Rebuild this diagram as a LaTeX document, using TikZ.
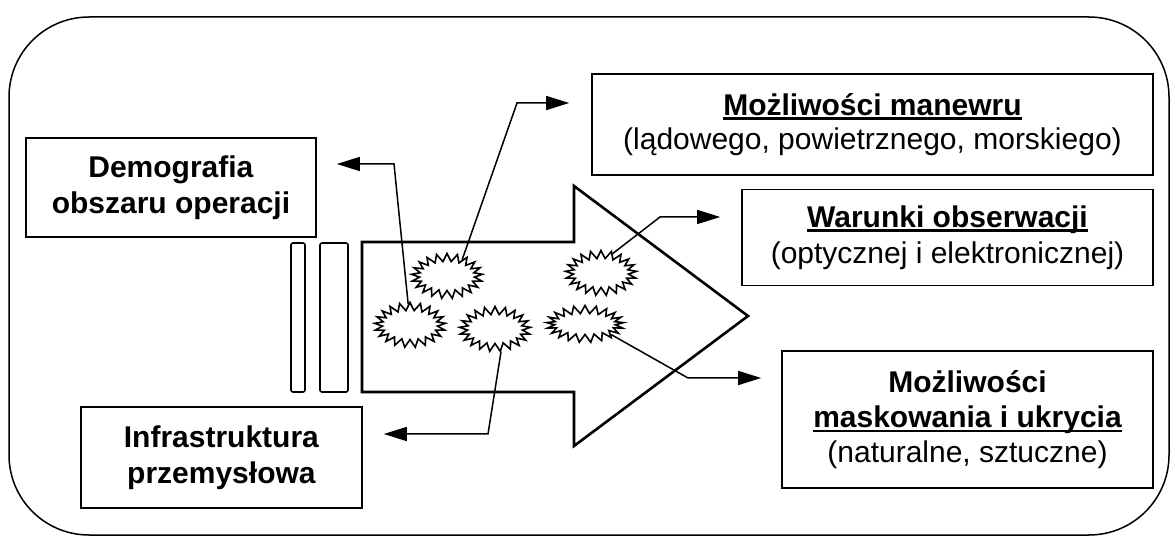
\documentclass[tikz,border=0pt]{standalone}
\usepackage{fontspec}
\setmainfont{Liberation Sans}
\usetikzlibrary{arrows.meta, positioning, shapes.symbols}

\newcommand{\undl}[1]{\setbox0\hbox{#1}\rlap{\rule[-4.5pt]{\wd0}{2.4pt}}\box0}

\begin{document}
\begin{tikzpicture}[
  x=1pt, y=-1pt,
  block/.style = {draw, line width=1.6pt, align=center, inner sep=0pt,
                  font=\fontsize{30}{36}\selectfont},
  arrow/.style = {line width=1.5pt, -{Triangle[length=23pt,width=14pt]}},
  burst/.style = {starburst, draw, line width=1.6pt, inner sep=0pt,
                  minimum width=71pt, minimum height=45pt,
                  starburst points=21, starburst point height=8pt, random starburst=0},
  bar/.style = {draw, line width=1.6pt, rounded corners=2pt}
]
  \useasboundingbox (0,0) rectangle (1171,537);

  % Frame
  \draw[line width=1.5pt, rounded corners=80pt] (9,17) rectangle (1169,535);

  % Left blocks
  \node[block, minimum width=290pt, minimum height=99pt] (demo) at (171,187.5)
    {\textbf{Demografia}\\\textbf{obszaru operacji}};
  \node[block, minimum width=281pt, minimum height=101pt] (infra) at (221.5,457.5)
    {\textbf{Infrastruktura}\\\textbf{przemysłowa}};

  % Right blocks
  \node[block, minimum width=561pt, minimum height=101pt,
        font=\fontsize{30}{34}\selectfont] (man) at (872.5,124.5)
    {\textbf{\undl{Możliwości manewru}}\\(lądowego, powietrznego, morskiego)};
  \node[block, minimum width=411pt, minimum height=96pt,
        below left=13pt and 0pt of man.south east] (obs)
    {\textbf{\undl{Warunki obserwacji}}\\(optycznej i elektronicznej)};
  \node[block, minimum width=371pt, minimum height=137pt,
        font=\fontsize{30}{35}\selectfont,
        below left=64pt and 0pt of obs.south east] (mask)
    {\textbf{Możliwości}\\\textbf{\undl{maskowania i ukrycia}}\\(naturalne, sztuczne)};

  % Bars and big arrow
  \draw[bar] (291,243) rectangle (305,392);
  \draw[bar] (320,243) rectangle (348,392);
  \draw[line width=2.6pt, line join=miter] (362,242) -- (574,242) -- (574,186)
    -- (748,316) -- (574,446) -- (574,392) -- (362,392) -- cycle;

  % Stars
  \node[burst] (sA) at (447,276) {};
  \node[burst] (sB) at (410,325) {};
  \node[burst] (sC) at (495,329) {};
  \node[burst] (sD) at (601,273) {};
  \node[burst, minimum width=77pt, minimum height=37pt] (sE) at (585,324) {};

  % Stars -> blocks
  \coordinate (kDemo) at (394,164);
  \draw[arrow, shorten >=20pt] (sB.95) -- (kDemo) -- (kDemo -| demo.east);
  \coordinate (kMan) at (517,103);
  \draw[arrow, shorten >=22pt] (sA.47) -- (kMan) -- (kMan -| man.west);
  \coordinate (kObs) at (660,217);
  \draw[arrow, shorten >=21pt] (sD.59) -- (kObs) -- (kObs -| obs.west);
  \coordinate (kMask) at (688,378);
  \draw[arrow, shorten >=20pt] (sE.-22) -- (kMask) -- (kMask -| mask.west);
  \coordinate (kInfra) at (488,434);
  \draw[arrow, shorten >=21pt] (sC.-75) -- (kInfra) -- (kInfra -| infra.east);

\end{tikzpicture}
\end{document}
